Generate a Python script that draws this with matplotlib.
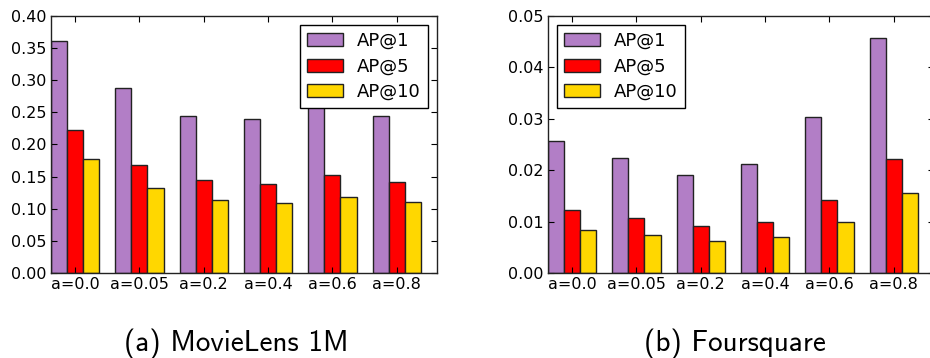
import numpy as np
import matplotlib.pyplot as plt

plt.rcParams['font.family'] = 'DejaVu Sans'
plt.rcParams['xtick.direction'] = 'in'
plt.rcParams['ytick.direction'] = 'in'
plt.rcParams['xtick.top'] = True
plt.rcParams['ytick.right'] = True
plt.rcParams['xtick.major.size'] = 4
plt.rcParams['ytick.major.size'] = 4

##############################################################################
# Average precision for different values of a
labels = ['a=0.0', 'a=0.05', 'a=0.2', 'a=0.4', 'a=0.6', 'a=0.8']

ml_ap1 = [0.361, 0.287, 0.245, 0.240, 0.270, 0.244]
ml_ap5 = [0.222, 0.168, 0.145, 0.139, 0.153, 0.142]
ml_ap10 = [0.177, 0.132, 0.114, 0.109, 0.119, 0.111]

fs_ap1 = [0.0256, 0.0224, 0.0191, 0.0213, 0.0303, 0.0457]
fs_ap5 = [0.0123, 0.0107, 0.0091, 0.0100, 0.0142, 0.0222]
fs_ap10 = [0.0085, 0.0074, 0.0063, 0.0071, 0.0100, 0.0155]
##############################################################################

colors = ['#b27ec6', '#ff0000', '#ffd700']
names = ['AP@1', 'AP@5', 'AP@10']
w = 0.25
x = np.arange(len(labels))


def bars(ax, series, ymax, step, loc, caption, cx):
    for k, vals in enumerate(series):
        ax.bar(x + (k - 1) * w, vals, w, color=colors[k], edgecolor='#222222',
               linewidth=1, label=names[k])
    ax.set_xlim(-1.5 * w, len(labels) - 1.5 * w)
    ax.set_ylim(0, ymax)
    ax.set_yticks(np.arange(0, ymax + step / 2, step))
    ax.yaxis.set_major_formatter(plt.FormatStrFormatter('%.2f'))
    ax.set_xticks(x)
    ax.set_xticklabels(labels)
    ax.tick_params(labelsize=11.5, pad=3)
    for s in ax.spines.values():
        s.set_linewidth(1)
        s.set_color('#222222')
    leg = ax.legend(loc=loc, fontsize=13, fancybox=False, framealpha=1,
                    edgecolor='black', labelspacing=0.42, handlelength=2.0,
                    handleheight=0.7, handletextpad=0.75, borderaxespad=0.5)
    leg.get_frame().set_linewidth(1)
    fig.text(cx, 0.02, caption, fontsize=21, family='cmss10',
             ha='center', va='baseline')


fig = plt.figure(figsize=(9.3, 3.58), dpi=100)
ax1 = fig.add_axes([0.0548, 0.2366, 0.4151, 0.7196])
ax2 = fig.add_axes([0.5892, 0.2366, 0.4151, 0.7196])

bars(ax1, [ml_ap1, ml_ap5, ml_ap10], 0.40, 0.05, 'upper right',
     '(a) MovieLens 1M', 0.254)
bars(ax2, [fs_ap1, fs_ap5, fs_ap10], 0.05, 0.01, 'upper left',
     '(b) Foursquare', 0.79)

plt.savefig('out.png', dpi=100)
